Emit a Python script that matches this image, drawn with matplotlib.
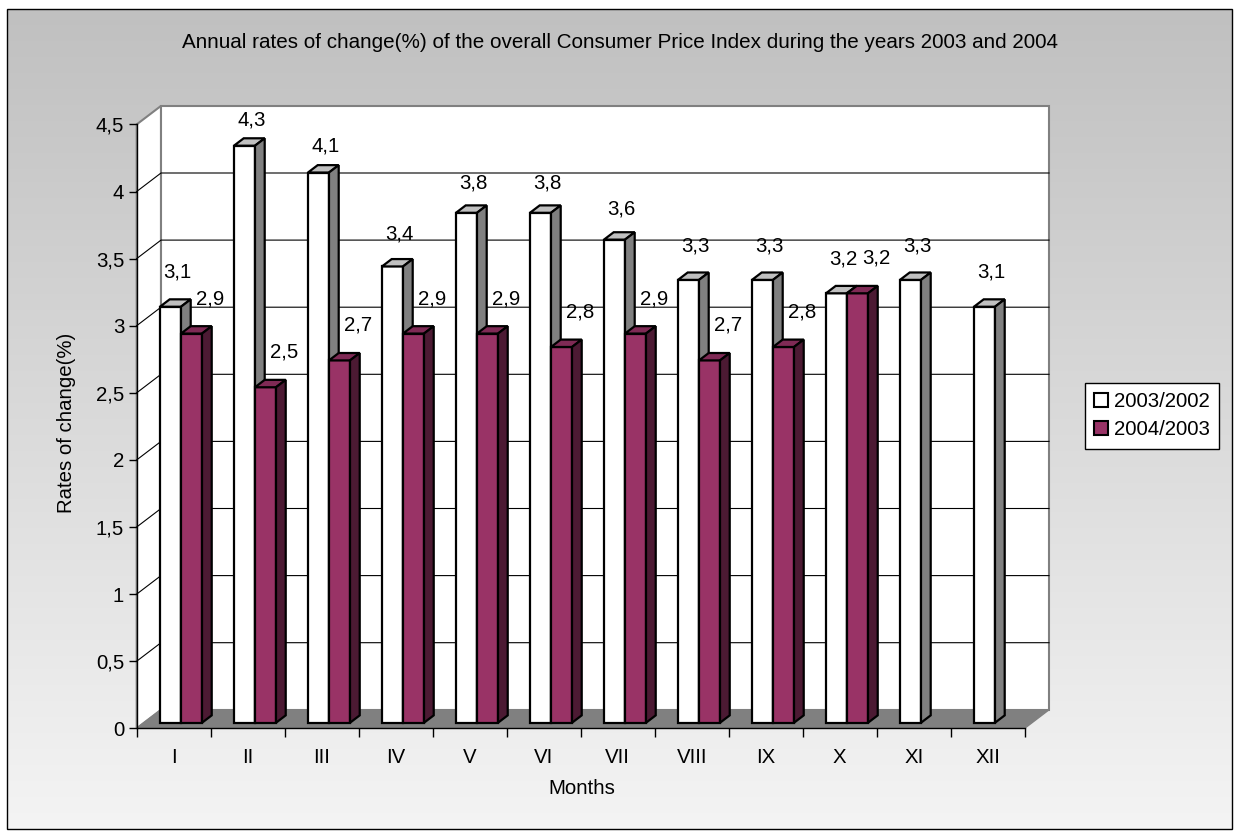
import numpy as np
import matplotlib
matplotlib.use("Agg")
import matplotlib.pyplot as plt
from matplotlib.patches import Polygon, Rectangle
from matplotlib.colors import LinearSegmentedColormap
from matplotlib.ticker import FuncFormatter, FixedLocator, NullFormatter

# ---------------- data ----------------
months = ["I", "II", "III", "IV", "V", "VI", "VII", "VIII", "IX", "X", "XI", "XII"]
rates_2003 = [3.1, 4.3, 4.1, 3.4, 3.8, 3.8, 3.6, 3.3, 3.3, 3.2, 3.3, 3.1]
rates_2004 = [2.9, 2.5, 2.7, 2.9, 2.9, 2.8, 2.9, 2.7, 2.8, 3.2]
series_names = ["2003/2002", "2004/2003"]
title = "Annual rates of change(%) of the overall Consumer Price Index during the years 2003 and 2004"
x_label = "Months"
y_label = "Rates of change(%)"
y_ticks = [0, 0.5, 1, 1.5, 2, 2.5, 3, 3.5, 4, 4.5]

# ---------------- style ----------------
plt.rcParams['font.family'] = ['Liberation Sans', 'DejaVu Sans']
FS = 14.7
W, H = 1235, 832
fig = plt.figure(figsize=(W / 100, H / 100), dpi=100)

# chart-area background gradient
bg = fig.add_axes([0, 0, 1, 1])
bg.set_xlim(0, W)
bg.set_ylim(H, 0)
bg.axis('off')
cmap = LinearSegmentedColormap.from_list('g', ['#c0c0c0', '#f4f4f4'])
grad = np.linspace(0, 1, 256).reshape(-1, 1)
bg.imshow(grad, cmap=cmap, extent=[7, 1232, 829, 9], aspect='auto', zorder=0)
bg.add_patch(Rectangle((7, 9), 1225, 820, fill=False, ec='black', lw=1, zorder=1))

# main axes: front plane
x0p, y0p = 136.7, 728.3
cat_w = 74.0
unit_h = 134.2
ax = fig.add_axes([x0p / W, (H - y0p) / H, 12 * cat_w / W, 4.5 * unit_h / H])
ax.set_xlim(0, 12)
ax.set_ylim(0, 4.5)
ax.patch.set_visible(False)
for s in ['top', 'right']:
    ax.spines[s].set_visible(False)
ax.spines['left'].set_linewidth(1)
ax.spines['bottom'].set_linewidth(1)

DX = 24.3 / cat_w
DY = 18.5 / unit_h


def P(x, v, d):
    return (x + d * DX, v + d * DY)


def poly(pts, **kw):
    p = Polygon([P(*q) for q in pts], closed=True, clip_on=False, **kw)
    ax.add_patch(p)
    return p


ymax = 4.5
# floor
poly([(0, 0, 0), (12, 0, 0), (12, 0, 1), (0, 0, 1)], fc='#808080', ec='#808080', lw=1, zorder=1)
# left wall
poly([(0, 0, 0), (0, 0, 1), (0, ymax, 1), (0, ymax, 0)], fc='white', ec='#808080', lw=1.5, zorder=0.5)
# back wall
poly([(0, 0, 1), (12, 0, 1), (12, ymax, 1), (0, ymax, 1)], fc='white', ec='#808080', lw=1.5, zorder=0.6)
# gridlines
for v in y_ticks[1:-1]:
    pts = [P(0, v, 0), P(0, v, 1), P(12, v, 1)]
    ax.plot([p[0] for p in pts], [p[1] for p in pts], color='black', lw=0.8, clip_on=False, zorder=0.8)

# bars
bw = 0.284
d0, d1 = 0.3, 0.7
styles = [
    dict(front='white', top='#c0c0c0', side='#808080'),
    dict(front='#993366', top='#7f2a55', side='#4c1a33'),
]
series = [rates_2003, rates_2004]
for i in range(len(months)):
    for k, vals in enumerate(series):
        if i >= len(vals):
            continue
        v = vals[i]
        xa = i + 0.5 - bw + k * bw
        xb = xa + bw
        st = styles[k]
        kw = dict(ec='black', lw=1.6, joinstyle='miter', zorder=2)
        poly([(xa, 0, d0), (xb, 0, d0), (xb, v, d0), (xa, v, d0)], fc=st['front'], **kw)
        poly([(xa, v, d0), (xb, v, d0), (xb, v, d1), (xa, v, d1)], fc=st['top'], **kw)
        poly([(xb, 0, d0), (xb, 0, d1), (xb, v, d1), (xb, v, d0)], fc=st['side'], **kw)
        # data label
        cx, cy = P((xa + xb) / 2, v, d0)
        if k == 0:
            dxpix, dypix = 7, 35 - 8 * (v - 3.1)
        else:
            dxpix, dypix = 19, 35
        ax.annotate(f"{v:g}".replace('.', ','), (cx, cy), xytext=(dxpix, dypix),
                    textcoords='offset pixels', ha='center', va='center',
                    fontsize=FS, zorder=5, annotation_clip=False)

# axes ticks
ax.yaxis.set_major_locator(FixedLocator(y_ticks))
ax.yaxis.set_major_formatter(FuncFormatter(lambda v, p: f"{v:g}".replace('.', ',')))
ax.tick_params(axis='y', direction='out', length=6, width=1, labelsize=FS, pad=3)
ax.xaxis.set_major_locator(FixedLocator(np.arange(0, 13)))
ax.xaxis.set_major_formatter(NullFormatter())
ax.set_xticks(np.arange(12) + 0.5, minor=True)
ax.set_xticklabels(months, minor=True, fontsize=FS)
ax.tick_params(axis='x', which='major', direction='out', length=6.5, width=1)
ax.tick_params(axis='x', which='minor', length=0, pad=14)

fig.text(582 / W, 1 - 789 / H, x_label, ha='center', va='center', fontsize=FS)
fig.text(66 / W, 1 - 423 / H, y_label, ha='center', va='center', rotation=90, fontsize=FS)
fig.text(620 / W, 1 - 42 / H, title, ha='center', va='center', fontsize=14.9)

handles = [Rectangle((0, 0), 1, 1, fc=st['front'], ec='black', lw=1.5) for st in styles]
leg = fig.legend(handles, series_names, loc='upper left',
                 bbox_to_anchor=(1085 / W, 1 - 383 / H), fontsize=FS,
                 frameon=True, fancybox=False, edgecolor='black', framealpha=1,
                 handlelength=0.7, handleheight=0.7, handletextpad=0.25,
                 labelspacing=0.45, borderpad=0.45, borderaxespad=0)
leg.get_frame().set_linewidth(1)

fig.savefig('out.png', dpi=100)
